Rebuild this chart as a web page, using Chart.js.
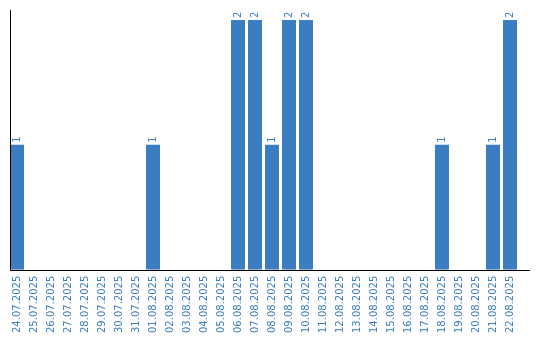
<!DOCTYPE html>
<html>
<head>
<meta charset="UTF-8">
<script src="https://cdn.jsdelivr.net/npm/chart.js@4/dist/chart.umd.min.js"></script>
<style>
  html, body { margin: 0; padding: 0; background: #fff; }
  #wrap { width: 540px; height: 340px; }
</style>
</head>
<body>
<div id="wrap"><canvas id="grafico"></canvas></div>
<script>
const datas = ['24.07.2025','25.07.2025','26.07.2025','27.07.2025','28.07.2025','29.07.2025','30.07.2025','31.07.2025',
  '01.08.2025','02.08.2025','03.08.2025','04.08.2025','05.08.2025','06.08.2025','07.08.2025','08.08.2025',
  '09.08.2025','10.08.2025','11.08.2025','12.08.2025','13.08.2025','14.08.2025','15.08.2025','16.08.2025',
  '17.08.2025','18.08.2025','19.08.2025','20.08.2025','21.08.2025','22.08.2025'];
const quantidades = [1,0,0,0,0,0,0,0, 1,0,0,0,0,2,2,1, 2,2,0,0,0,0,0,0, 0,1,0,0,1,2];

const azul = 'rgb(59,125,193)';

// eixos desenhados à mão + rótulos girados em cima das barras
const eixosERotulos = {
  id: 'eixosERotulos',
  afterDatasetsDraw(chart) {
    const ctx = chart.ctx;
    const area = chart.chartArea;
    const x0 = 10.5;
    const y0 = Math.round(area.bottom) + 0.5;
    ctx.save();
    ctx.strokeStyle = '#000';
    ctx.lineWidth = 1;
    ctx.beginPath();
    ctx.moveTo(x0, 10);
    ctx.lineTo(x0, y0);
    ctx.lineTo(530, y0);
    ctx.stroke();

    const meta = chart.getDatasetMeta(0);
    ctx.fillStyle = azul;
    ctx.font = '10px "DejaVu Sans"';
    ctx.textAlign = 'left';
    ctx.textBaseline = 'middle';
    meta.data.forEach(function (bar, i) {
      if (!quantidades[i]) return;
      ctx.save();
      ctx.translate(bar.x, bar.y - 2);
      ctx.rotate(-Math.PI / 2);
      ctx.fillText(String(quantidades[i]), 0, 0);
      ctx.restore();
    });
    ctx.restore();
  }
};

new Chart(document.getElementById('grafico'), {
  type: 'bar',
  data: {
    labels: datas,
    datasets: [{
      data: quantidades,
      backgroundColor: azul,
      barPercentage: 0.8235,
      categoryPercentage: 1
    }]
  },
  options: {
    responsive: true,
    maintainAspectRatio: false,
    animation: false,
    layout: { padding: { left: 8.5, top: 10, right: 21.5, bottom: 1 } },
    plugins: { legend: { display: false }, tooltip: { enabled: false } },
    scales: {
      x: {
        grid: { display: false, drawTicks: false },
        border: { display: false },
        ticks: {
          color: azul,
          font: { family: 'DejaVu Sans', size: 10 },
          minRotation: 90,
          maxRotation: 90,
          autoSkip: false,
          padding: 6
        }
      },
      y: {
        display: false,
        min: 0,
        max: 2.08
      }
    }
  },
  plugins: [eixosERotulos]
});
</script>
</body>
</html>
